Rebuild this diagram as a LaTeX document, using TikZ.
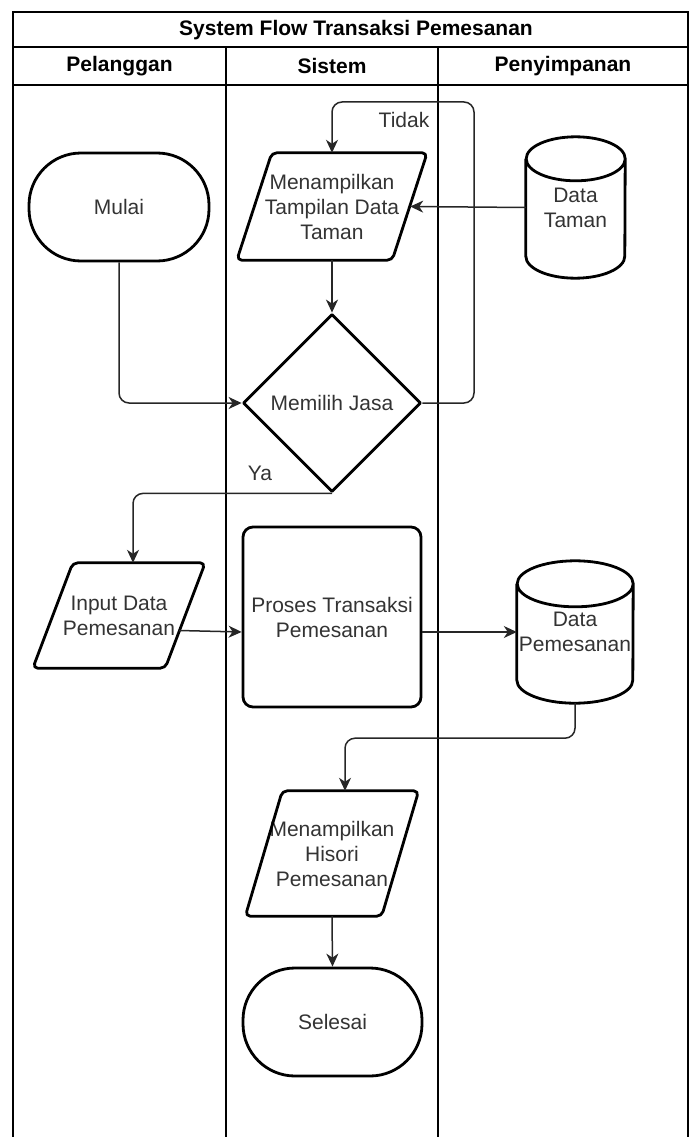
\documentclass[tikz,border=0pt]{standalone}
\usepackage{fontspec}
\setmainfont{Liberation Sans}
\usetikzlibrary{shapes.geometric,arrows.meta,calc}

% slanted input/output box drawn around a plain node
\newcommand\slantframe[2]{%
  \draw[outline,rounded corners=5pt]
    ($(#1.north)+({#2/2},0)$) -- (#1.north east)
    -- ($(#1.south east)+(-#2pt,0pt)$) -- (#1.south west)
    -- ($(#1.north west)+(#2pt,0pt)$) -- cycle;}

% storage drum drawn around a plain node: name, x radius, y radius
\newcommand\drumframe[3]{%
  \draw[outline] ($(#1.north west)+(0pt,-#3pt)$) -- ($(#1.south west)+(0pt,#3pt)$)
    arc[start angle=180,end angle=360,x radius=#2pt,y radius=#3pt]
    -- ($(#1.north east)+(0pt,-#3pt)$)
    arc[start angle=0,end angle=180,x radius=#2pt,y radius=#3pt]
    arc[start angle=180,end angle=360,x radius=#2pt,y radius=#3pt];}

\begin{document}
\begin{tikzpicture}[x=1pt,y=-1pt,
  every node/.style={font=\fontsize{21}{25}\selectfont,text=black!80,align=center,inner sep=0pt},
  lane/.style={draw=black,line width=1.3pt},
  head/.style={font=\fontsize{21}{25}\selectfont\bfseries,text=black},
  outline/.style={draw=black,line width=2.8pt,line join=round},
  term/.style={outline,rectangle,rounded corners=52pt,minimum width=179pt,minimum height=108pt},
  procbox/.style={outline,rectangle,rounded corners=10pt,minimum width=178pt,minimum height=180pt},
  decision/.style={outline,diamond,aspect=1,minimum width=178pt,minimum height=178pt},
  plain/.style={rectangle,minimum width=#1},
  flow/.style={draw=black!85,line width=1.5pt,rounded corners=10pt,
    -{Stealth[length=13pt,width=12pt,inset=4pt]}},
  lbl/.style={text=black!80}
]
\useasboundingbox (0,0) rectangle (690,1137);

% swimlane frame
\draw[lane] (13,1140) -- (13,12) -- (688,12) -- (688,1140);
\draw[lane] (13,47) -- (688,47);
\draw[lane] (13,85) -- (688,85);
\draw[lane] (226,47) -- (226,1140);
\draw[lane] (438,47) -- (438,1140);

\node[head] (title) at (356,30) {System Flow Transaksi Pemesanan};
\node[head] (hpel) at (119.5,66) {Pelanggan};
\node[head] (hsis) at (332,66) {Sistem};
\node[head] (hpen) at (563,66) {Penyimpanan};

% flow elements
\node[term,minimum width=180pt] (mulai) at (119,207) {Mulai};
\node[plain=190pt,minimum height=107pt] (tampil) at (332,206.5) {Menampilkan\\Tampilan Data\\Taman};
\slantframe{tampil}{35}
\node[plain=99pt,minimum height=141pt] (dtaman) at (575.5,207.5) {Data\\Taman};
\drumframe{dtaman}{49.5}{22}
\node[decision] (jasa) at (332,403) {Memilih Jasa};
\node[plain=172pt,minimum height=105pt] (input) at (119,615.5) {Input Data\\Pemesanan};
\slantframe{input}{40}
\node[procbox] (proses) at (332,617) {Proses Transaksi\\Pemesanan};
\node[plain=116pt,minimum height=142pt] (dpem) at (575,632) {Data\\Pemesanan};
\drumframe{dpem}{58}{23}
\node[plain=173pt,minimum height=125pt] (hisori) at (332,853.5) {Menampilkan\\Hisori\\Pemesanan};
\slantframe{hisori}{37}
\node[term] (selesai) at (332.5,1022) {Selesai};

% connectors
\coordinate (looptop) at (474,102);
\draw[flow] (mulai.south) |- (jasa.west);
\draw[flow] (tampil.south) -- (jasa.north);
\draw[flow] (jasa.east) -| (looptop) -| (tampil.north);
\draw[flow] (dtaman.west) -- ($(tampil.east)+(-17pt,0pt)$);
\draw[flow] (jasa.south) -| ($(input.north)+(14pt,0pt)$);
\draw[flow] ($(input.east)+(-26pt,-15pt)$) -- ($(proses.west)+(0pt,-15pt)$);
\draw[flow] (proses.east |- dpem.west) -- (dpem.west);
\draw[flow] (dpem.south) -- ++(0,35) -| ($(hisori.north)+(13pt,0pt)$);
\draw[flow] (hisori.south) -- (selesai.north);

\node[lbl] (tidak) at (404,120) {Tidak};
\node[lbl] (ya) at (260,473) {Ya};
\end{tikzpicture}
\end{document}
